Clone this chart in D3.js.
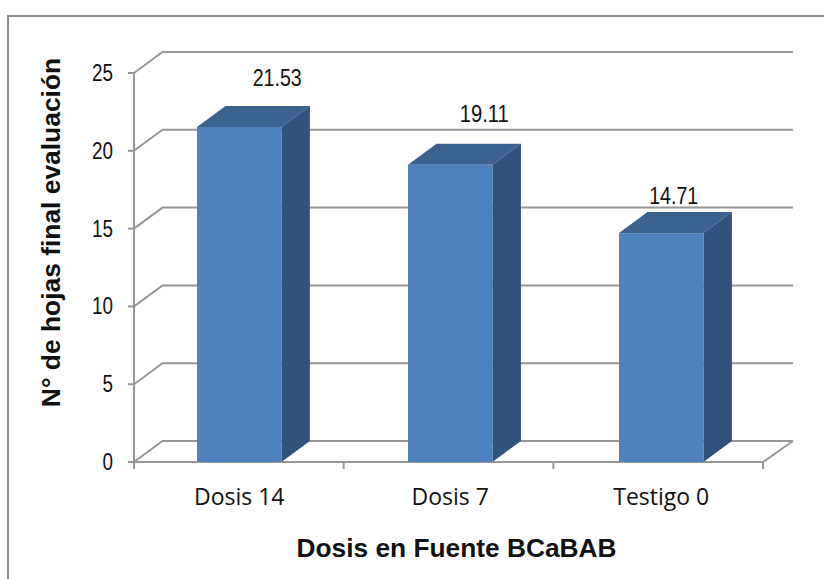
<!DOCTYPE html>
<html><head><meta charset="utf-8">
<script src="https://d3js.org/d3.v7.min.js"></script>
<style>
html,body{margin:0;padding:0;background:#fff}
svg{display:block}
text{fill:#111}
</style></head><body><svg id="c" width="824" height="579"></svg>
<script>
const categories = ["Dosis 14", "Dosis 7", "Testigo 0"];
const values = [21.53, 19.11, 14.71];
const valueLabels = ["21.53", "19.11", "14.71"];
const yTicks = [0, 5, 10, 15, 20, 25];
const yTitle = "N° de hojas final evaluación";
const xTitle = "Dosis en Fuente BCaBAB";

const W = 824, H = 579;
const x0 = 134, x1 = 763, yB = 462, yT = 73, dx = 28.5, dy = -21;
const labelNudge = [[38, -41], [34, -43], [12.5, -29.5]];
const gridColor = "#979797", frontColor = "#4f81bd", sideColor = "#31527c", topColor = "#3c6290";

const svg = d3.select("#c");
svg.append("rect").attr("width", W).attr("height", H).attr("fill", "#fff");
// outer frame: only top and left edges are visible
svg.append("path").attr("d", `M8 579V16H824`).attr("fill", "none").attr("stroke", "#8c8c8c").attr("stroke-width", 2);

const y = d3.scaleLinear().domain([0, 25]).range([yB, yT]);
const x = d3.scaleBand().domain(categories).range([x0, x1]).paddingInner(0.6).paddingOuter(0.2905).align(0.514);
const axisStep = (x1 - x0) / categories.length;

const g = svg.append("g").attr("fill", "none").attr("stroke", gridColor).attr("stroke-width", 2);
// wall grid lines
yTicks.forEach(t => {
  g.append("path").attr("d", `M${x0} ${y(t)}L${x0 + dx} ${y(t) + dy}H${x1 + dx + 1.5}`);
});
// floor
g.append("path").attr("d", `M${x0 - 6} ${yB}H${x1}L${x1 + dx + 1.5} ${yB + dy}`);
// y axis line and ticks
g.append("path").attr("d", `M${x0} ${yT}V${yB + 7}`);
yTicks.forEach(t => g.append("path").attr("d", `M${x0 - 6} ${y(t)}H${x0}`));
// x ticks
d3.range(categories.length + 1).forEach(i => {
  g.append("path").attr("d", `M${x0 + axisStep * i} ${yB}V${yB + 7}`);
});

// bars
const bars = svg.append("g").selectAll("g").data(categories).join("g");
const path = d3.path;
bars.append("path").attr("fill", topColor).attr("d", (c, i) => {
  const p = path(), l = x(c), r = l + x.bandwidth(), t = y(values[i]);
  p.moveTo(l, t); p.lineTo(l + dx, t + dy); p.lineTo(r + dx, t + dy); p.lineTo(r, t); p.closePath();
  return p.toString();
});
bars.append("path").attr("fill", sideColor).attr("d", (c, i) => {
  const p = path(), r = x(c) + x.bandwidth(), t = y(values[i]);
  p.moveTo(r, t); p.lineTo(r + dx, t + dy); p.lineTo(r + dx, yB + dy); p.lineTo(r, yB); p.closePath();
  return p.toString();
});
bars.append("rect").attr("fill", frontColor)
  .attr("x", c => x(c)).attr("width", x.bandwidth())
  .attr("y", (c, i) => y(values[i])).attr("height", (c, i) => yB - y(values[i]));

const sans = "'Liberation Sans', Arial, sans-serif";
// value labels
bars.append("text").text((c, i) => valueLabels[i])
  .attr("x", (c, i) => x(c) + x.bandwidth() / 2 + labelNudge[i][0])
  .attr("y", (c, i) => y(values[i]) + labelNudge[i][1])
  .attr("text-anchor", "middle").attr("font-family", sans).attr("font-size", 24)
  .attr("textLength", 49).attr("lengthAdjust", "spacingAndGlyphs");

// y tick labels
svg.append("g").selectAll("text").data(yTicks).join("text").text(d => d)
  .attr("x", 113).attr("y", d => y(d) + 8)
  .attr("text-anchor", "end").attr("font-family", sans).attr("font-size", 23)
  .attr("textLength", d => String(d).length * 10.5).attr("lengthAdjust", "spacingAndGlyphs");

// category labels
svg.append("g").selectAll("text").data(categories).join("text").text(d => d)
  .attr("x", d => x(d) + x.bandwidth() / 2).attr("y", 505)
  .attr("text-anchor", "middle").attr("font-family", "'Open Sans', sans-serif").attr("font-size", 23);

// axis titles
svg.append("text").text(xTitle).attr("x", 456.5).attr("y", 557)
  .attr("text-anchor", "middle").attr("font-family", sans).attr("font-weight", "bold").attr("font-size", 26.3);
svg.append("text").text(yTitle).attr("transform", "translate(60,232.5) rotate(-90)")
  .attr("text-anchor", "middle").attr("font-family", sans).attr("font-weight", "bold").attr("font-size", 26.4);
</script></body></html>
